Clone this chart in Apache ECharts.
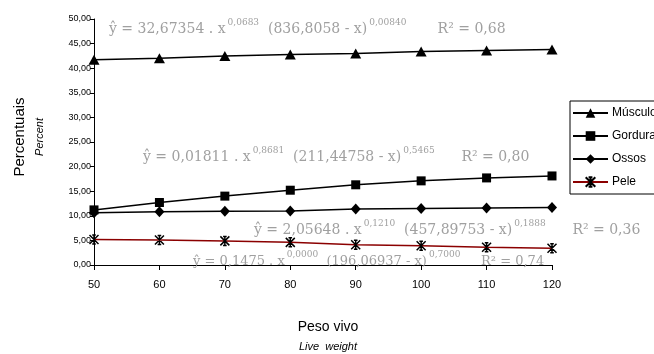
<!DOCTYPE html>
<html><head><meta charset="utf-8">
<script src="https://cdn.jsdelivr.net/npm/echarts@6/dist/echarts.min.js"></script>
<style>html,body{margin:0;padding:0;background:#fff}#c{width:654px;height:354px}</style>
</head><body><div id="c"></div>
<script>
const categories = ['50','60','70','80','90','100','110','120'];
const musculo = [41.7, 42.0, 42.5, 42.8, 43.0, 43.4, 43.6, 43.8];
const gordura = [11.2, 12.7, 14.0, 15.2, 16.3, 17.1, 17.7, 18.1];
const ossos   = [10.6, 10.8, 10.9, 11.0, 11.4, 11.5, 11.6, 11.7];
const pele    = [5.2, 5.1, 4.9, 4.6, 4.1, 3.9, 3.6, 3.4];
const seriesNames = ['Músculo','Gordura','Ossos','Pele'];
const equations = [
  {a:'ŷ = 32,67354 . x', e1:'0,0683', b:'  (836,8058 - x)', e2:'0,00840', r:'       R² = 0,68', x:109, y:27, fs:14},
  {a:'ŷ = 0,01811 . x', e1:'0,8681', b:'  (211,44758 - x)', e2:'0,5465', r:'      R² = 0,80', x:143, y:155, fs:14},
  {a:'ŷ = 2,05648 . x', e1:'0,1210', b:'  (457,89753 - x)', e2:'0,1888', r:'      R² = 0,36', x:254, y:228, fs:14},
  {a:'ŷ = 0,1475 . x', e1:'0,0000', b:'  (196,06937 - x)', e2:'0,7000', r:'     R² = 0,74', x:193, y:259, fs:13}
];
const chart = echarts.init(document.getElementById('c'));
const star = 'path://M0,0L10,10M10,0L0,10M5,0L5,10M3,0L7,0M3,10L7,10';
const gray = '#a0a0a0';
const eqGraphics = equations.map(q => ({
  type:'text', x:q.x, y:q.y, z:10,
  style:{
    text:'{m|'+q.a+'}{s|'+q.e1+'}{m|'+q.b+'}{s|'+q.e2+'}{m|'+q.r+'}',
    verticalAlign:'middle',
    rich:{
      m:{fontFamily:'DejaVu Serif', fontSize:q.fs, fill:gray, verticalAlign:'bottom', lineHeight:18},
      s:{fontFamily:'DejaVu Serif', fontSize:9, fill:gray, verticalAlign:'top', lineHeight:10, padding:[0,0,0,2]}
    }
  }
}));
chart.setOption({
  animation:false,
  grid:{left:94, right:102, top:19, bottom:89},
  legend:{
    orient:'vertical', left:570, top:101, itemWidth:35, itemHeight:12, itemGap:11,
    borderColor:'#000', borderWidth:1, padding:[6,40,6,2], borderRadius:0,
    textStyle:{fontFamily:'Liberation Sans', fontSize:12, color:'#000', padding:[0,0,0,-1]},
    data:seriesNames
  },
  xAxis:{
    type:'category', data:categories, boundaryGap:false,
    axisLine:{lineStyle:{color:'#000', width:1}},
    axisTick:{alignWithLabel:true, length:5, lineStyle:{color:'#000'}},
    axisLabel:{fontFamily:'Liberation Sans', fontSize:11, color:'#000', margin:14}
  },
  yAxis:{
    type:'value', min:0, max:50, interval:5,
    axisLine:{show:true, lineStyle:{color:'#000', width:1}},
    axisTick:{show:true, length:4, lineStyle:{color:'#000'}},
    splitLine:{show:false},
    axisLabel:{fontFamily:'Liberation Sans', fontSize:9, color:'#000', margin:3,
      formatter:v => v.toFixed(2).replace('.', ',')}
  },
  graphic:[
    {type:'text', x:20, y:137, rotation:Math.PI/2, style:{text:'Percentuais', fontFamily:'Liberation Sans', fontSize:15, fill:'#000', align:'center', verticalAlign:'middle'}},
    {type:'text', x:40, y:137, rotation:Math.PI/2, style:{text:'Percent', fontFamily:'Liberation Sans', fontStyle:'italic', fontSize:11, fill:'#000', align:'center', verticalAlign:'middle'}},
    {type:'text', x:328, y:327, style:{text:'Peso vivo', fontFamily:'Liberation Sans', fontSize:14, fill:'#000', align:'center', verticalAlign:'middle'}},
    {type:'text', x:328, y:347, style:{text:'Live  weight', fontFamily:'Liberation Sans', fontStyle:'italic', fontSize:11, fill:'#000', align:'center', verticalAlign:'middle'}}
  ].concat(eqGraphics),
  series:[
    {name:seriesNames[0], type:'line', data:musculo, symbol:'triangle', symbolSize:[11,10],
      lineStyle:{color:'#000', width:1.5}, itemStyle:{color:'#000'}},
    {name:seriesNames[1], type:'line', data:gordura, symbol:'rect', symbolSize:9,
      lineStyle:{color:'#000', width:1.5}, itemStyle:{color:'#000'}},
    {name:seriesNames[2], type:'line', data:ossos, symbol:'diamond', symbolSize:[10,11],
      lineStyle:{color:'#000', width:1.5}, itemStyle:{color:'#000'}},
    {name:seriesNames[3], type:'line', data:pele, symbol:star, symbolSize:9,
      lineStyle:{color:'#8b0000', width:1.5}, itemStyle:{color:'#000', borderColor:'#000', borderWidth:1.5}}
  ]
});
</script></body></html>
